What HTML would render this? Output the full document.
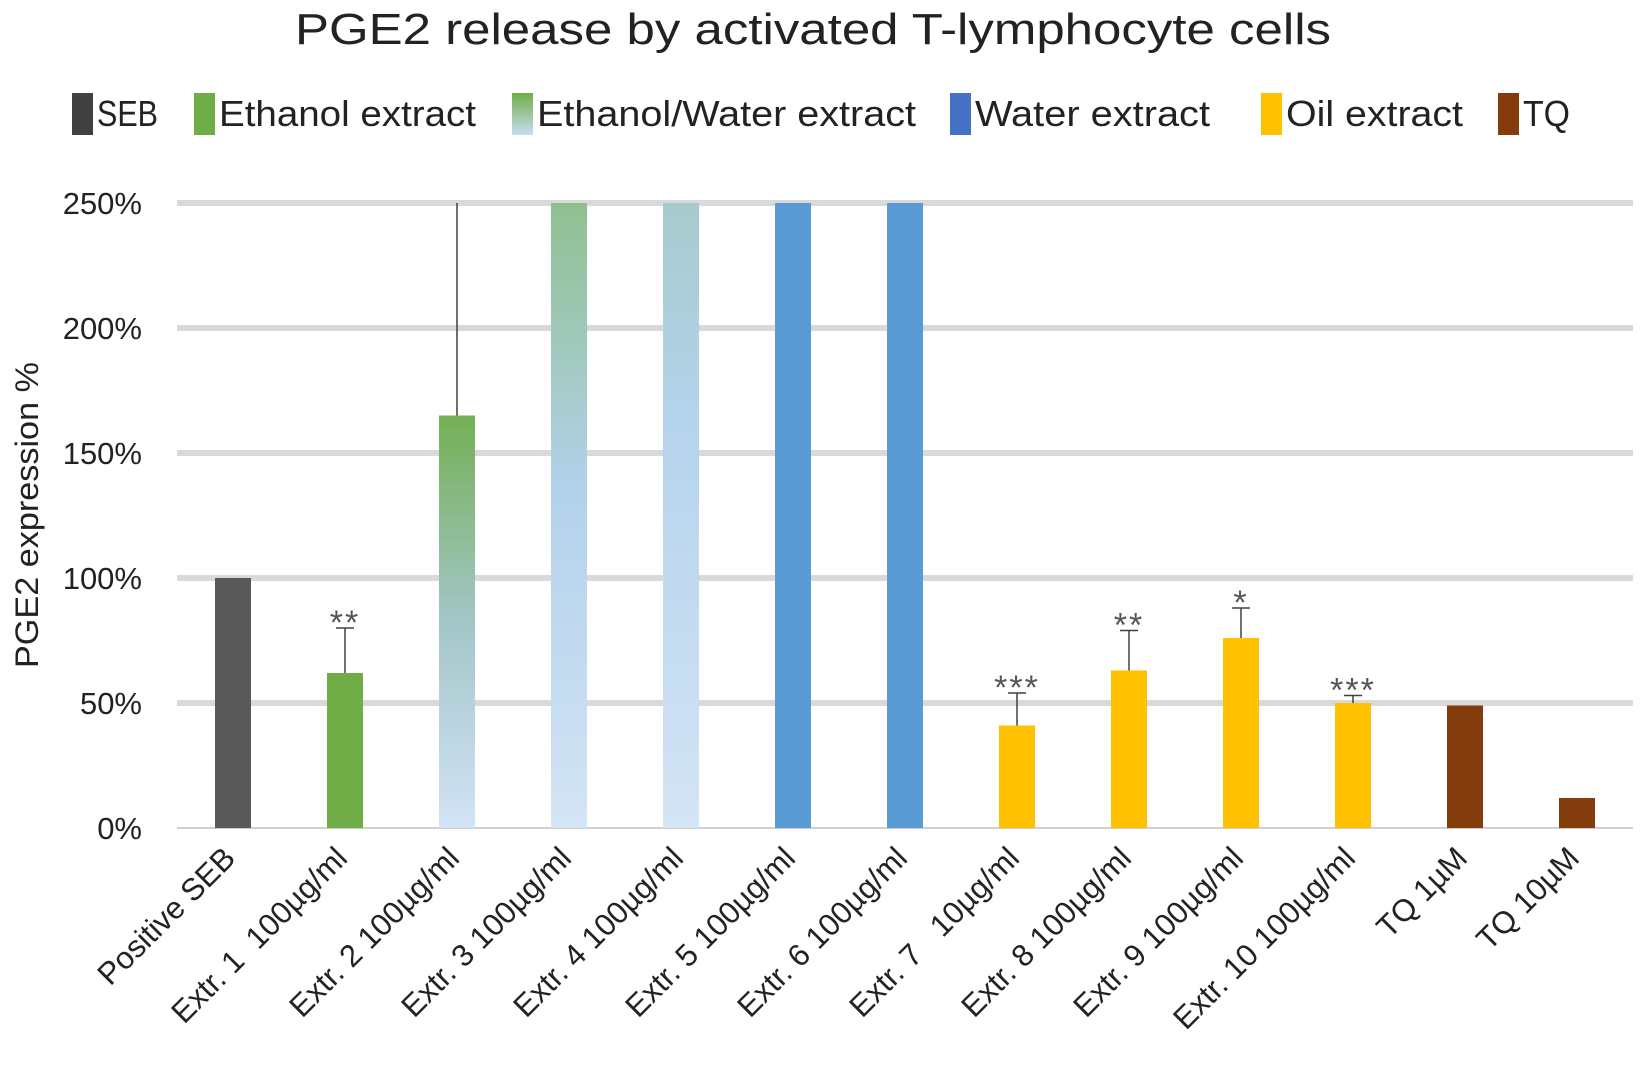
<!DOCTYPE html>
<html><head><meta charset="utf-8"><style>
html,body{margin:0;padding:0;background:#fff;}
svg{display:block;font-family:"Liberation Sans",sans-serif;}
text{white-space:pre;}
</style></head><body>
<svg id="c" width="1650" height="1076" viewBox="0 0 1650 1076" xmlns="http://www.w3.org/2000/svg">
<defs>
<linearGradient id="gEW1" x1="0" y1="0" x2="0" y2="1"><stop offset="0" stop-color="#74b054"/><stop offset="0.5" stop-color="#a3c6c8"/><stop offset="1" stop-color="#d2e3f5"/></linearGradient>
<linearGradient id="gEW2" x1="0" y1="0" x2="0" y2="1"><stop offset="0" stop-color="#8fc08f"/><stop offset="0.45" stop-color="#b2d1ea"/><stop offset="1" stop-color="#d3e4f5"/></linearGradient>
<linearGradient id="gEW3" x1="0" y1="0" x2="0" y2="1"><stop offset="0" stop-color="#a6cbcc"/><stop offset="0.35" stop-color="#b5d3ec"/><stop offset="1" stop-color="#d3e4f5"/></linearGradient>
<linearGradient id="gLeg" x1="0" y1="0" x2="0" y2="1"><stop offset="0" stop-color="#70ad47"/><stop offset="1" stop-color="#c9dcf2"/></linearGradient>
</defs>
<text x="295" y="44" font-size="44" fill="#222" textLength="1036" lengthAdjust="spacingAndGlyphs">PGE2 release by activated T-lymphocyte cells</text>
<g id="legend"></g>
<g id="grid"></g>
<g id="bars"></g>
<g id="ylab"></g>
<g id="xlab"></g>
<text transform="translate(38,515) rotate(-90)" font-size="32" fill="#222" text-anchor="middle" textLength="306" lengthAdjust="spacingAndGlyphs">PGE2 expression %</text>
</svg>
<script>
const categories=["Positive SEB","Extr. 1  100µg/ml","Extr. 2 100µg/ml","Extr. 3 100µg/ml","Extr. 4 100µg/ml","Extr. 5 100µg/ml","Extr. 6 100µg/ml","Extr. 7   10µg/ml","Extr. 8 100µg/ml","Extr. 9 100µg/ml","Extr. 10 100µg/ml","TQ 1µM","TQ 10µM"];
const values=[100,62,165,250,250,250,250,41,63,76,50,49,12];
const errTop=[null,80,250,null,null,null,null,54,79,88,53,null,null];
const stars=["","**","","","","","","***","**","*","***","",""];
const fills=["#595959","#70ad47","url(#gEW1)","url(#gEW2)","url(#gEW3)","#5b9bd5","#5b9bd5","#ffc000","#ffc000","#ffc000","#ffc000","#843c0c","#843c0c"];
const yTicks=[0,50,100,150,200,250];
const legendLabels=["SEB","Ethanol extract","Ethanol/Water extract","Water extract","Oil extract","TQ"];
const legendColors=["#404040","#70ad47","url(#gLeg)","#4472c4","#ffc000","#843c0c"];
const legendX=[97,219,537,975,1286,1523];
const legendW=[61,257,379,235,177,47];

const NS="http://www.w3.org/2000/svg";
const L=177,R=1633,Y0=828,Y250=203;
const y=v=>Y0-(v/250)*(Y0-Y250);
const step=(R-L)/categories.length;
const xc=i=>L+step*(i+0.5);
function mk(t,a,p){const e=document.createElementNS(NS,t);for(const k in a)e.setAttribute(k,a[k]);p.appendChild(e);return e;}

const grid=document.getElementById('grid'),ylab=document.getElementById('ylab');
yTicks.forEach(t=>{
 const g=mk('line',{x1:L,x2:R,y1:y(t),y2:y(t),stroke:t===0?'#d0d0d0':'#d9d9d9','stroke-width':t===0?2:6},grid);
 
 
 const tx=mk('text',{x:142,y:y(t)+11,'font-size':31,fill:'#222','text-anchor':'end'},ylab);
 tx.textContent=t+'%';
 
 
});
const bars=document.getElementById('bars'),xl=document.getElementById('xlab');
const bw=36;
categories.forEach((c,i)=>{
 const b=mk('rect',{x:xc(i)-bw/2,y:y(values[i]),width:bw,height:Y0-y(values[i]),fill:fills[i]},bars);
 
 
 if(errTop[i]!==null){
  const e=mk('path',{d:`M${xc(i)} ${y(values[i])}V${y(errTop[i])}`+(errTop[i]<250?`M${xc(i)-9} ${y(errTop[i])}H${xc(i)+9}`:''),stroke:'#404040','stroke-width':1.5,fill:'none'},bars);
  
  
 }
 if(stars[i]){
  const st=mk('text',{x:xc(i),y:y(errTop[i])+6,'font-size':34,fill:'#555','text-anchor':'middle','letter-spacing':2},bars);
  st.textContent=stars[i];
  
  
 }
 const t=mk('text',{transform:`translate(${xc(i)+4},${860}) rotate(-45)`,'font-size':31,fill:'#222','text-anchor':'end'},xl);
 t.textContent=c;
 
 
});
const leg=document.getElementById('legend');
legendLabels.forEach((l,i)=>{
 const r=mk('rect',{x:legendX[i]-25,y:93,width:21,height:42,fill:legendColors[i]},leg);
 
 
 const t=mk('text',{x:legendX[i],y:126,'font-size':36,fill:'#222',textLength:legendW[i],lengthAdjust:'spacingAndGlyphs'},leg);
 t.textContent=l;
 
 
});
</script>
</body></html>
